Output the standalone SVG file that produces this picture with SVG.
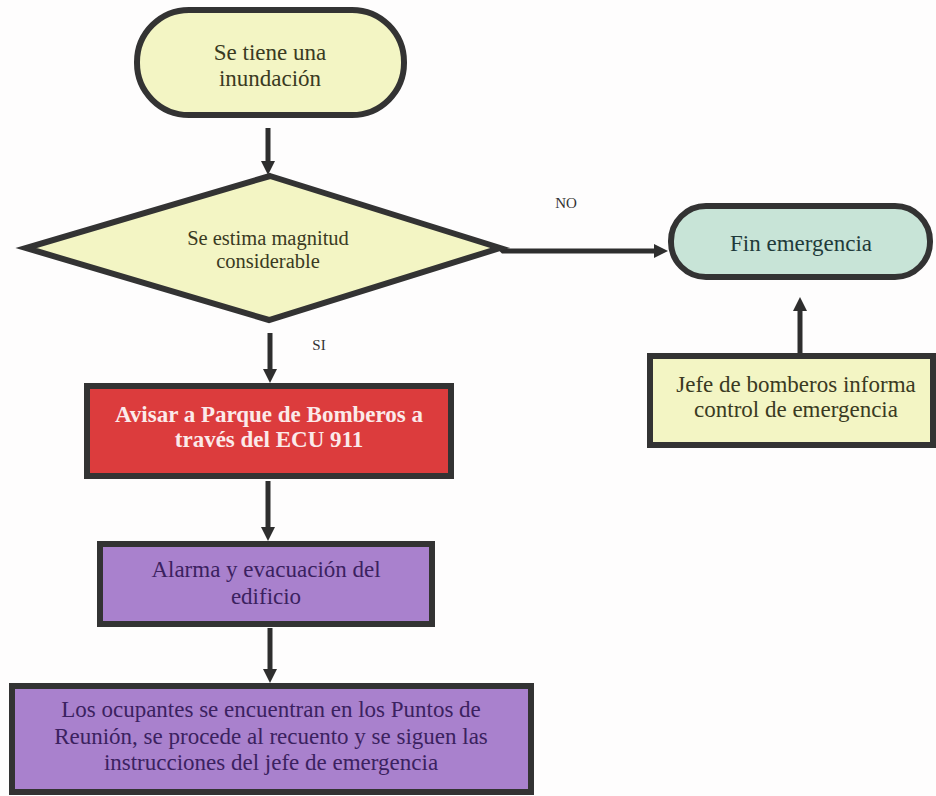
<svg xmlns="http://www.w3.org/2000/svg" width="936" height="796" viewBox="0 0 936 796">
<style>
.edge{stroke:#2e2e2e;stroke-width:5;fill:none}
.shape{stroke:#333;stroke-width:6}
.yel{fill:#f3f5c4}
.t{font-family:'Liberation Serif','Tinos','Times New Roman','Noto Serif','DejaVu Serif',serif;text-anchor:middle}
.ty{fill:#3a3a22;font-size:23px}
.tp{fill:#3b2160;font-size:23px}
.lbl{fill:#333;font-size:15px}
</style>
<defs>
<marker id="ah" markerUnits="userSpaceOnUse" markerWidth="16" markerHeight="16" refX="0" refY="7" orient="auto">
<path d="M0,0 L14,7 L0,14 z" fill="#2e2e2e"/>
</marker>
</defs>
<rect width="936" height="796" fill="#fefdfd"/>
<g id="connectors">
<line class="edge" x1="268" y1="128" x2="268" y2="161" marker-end="url(#ah)"/>
<path class="edge" d="M500,248 L503,251 L654,251" marker-end="url(#ah)"/>
<line class="edge" x1="270" y1="333" x2="270" y2="369" marker-end="url(#ah)"/>
<line class="edge" x1="268" y1="481" x2="268" y2="527" marker-end="url(#ah)"/>
<line class="edge" x1="270" y1="628" x2="270" y2="669" marker-end="url(#ah)"/>
<line class="edge" x1="800" y1="353" x2="800" y2="311" marker-end="url(#ah)"/>
<text class="t lbl" x="566" y="208">NO</text>
<text class="t lbl" x="319" y="350">SI</text>
</g>
<g id="start">
<rect class="shape yel" x="137" y="10" width="267" height="105" rx="52"/>
<text class="t ty" x="270" y="60">Se tiene una</text>
<text class="t ty" x="270" y="86">inundación</text>
</g>
<g id="decision">
<polygon class="shape yel" points="270,176 500,248 269,320 26,248" stroke-linejoin="miter"/>
<text class="t ty" x="268" y="245" style="font-size:20.5px">Se estima magnitud</text>
<text class="t ty" x="268" y="268" style="font-size:20.5px">considerable</text>
</g>
<g id="fin">
<rect class="shape" x="671" y="206" width="259" height="71" rx="35" fill="#c8e4d7"/>
<text class="t" x="801" y="251" style="font-size:23px;fill:#1f3a3a">Fin emergencia</text>
</g>
<g id="jefe">
<rect class="shape yel" x="650" y="356" width="283" height="89"/>
<text class="t ty" x="796" y="392">Jefe de bomberos informa</text>
<text class="t ty" x="796" y="417">control de emergencia</text>
</g>
<g id="avisar">
<rect class="shape" x="87" y="386" width="364" height="90" fill="#dc3c3d"/>
<text class="t" x="269" y="422" style="font-size:23px;font-weight:bold;fill:#fbeaea">Avisar a Parque de Bomberos a</text>
<text class="t" x="269" y="447" style="font-size:23px;font-weight:bold;fill:#fbeaea">través del ECU 911</text>
</g>
<g id="alarma">
<rect class="shape" x="100" y="544" width="332" height="80" fill="#a981cd"/>
<text class="t tp" x="266" y="577">Alarma y evacuación del</text>
<text class="t tp" x="266" y="604">edificio</text>
</g>
<g id="ocupantes">
<rect class="shape" x="12" y="686" width="519" height="106" fill="#a981cd"/>
<text class="t tp" x="271" y="717">Los ocupantes se encuentran en los Puntos de</text>
<text class="t tp" x="271" y="744">Reunión, se procede al recuento y se siguen las</text>
<text class="t tp" x="271" y="770">instrucciones del jefe de emergencia</text>
</g>
</svg>
